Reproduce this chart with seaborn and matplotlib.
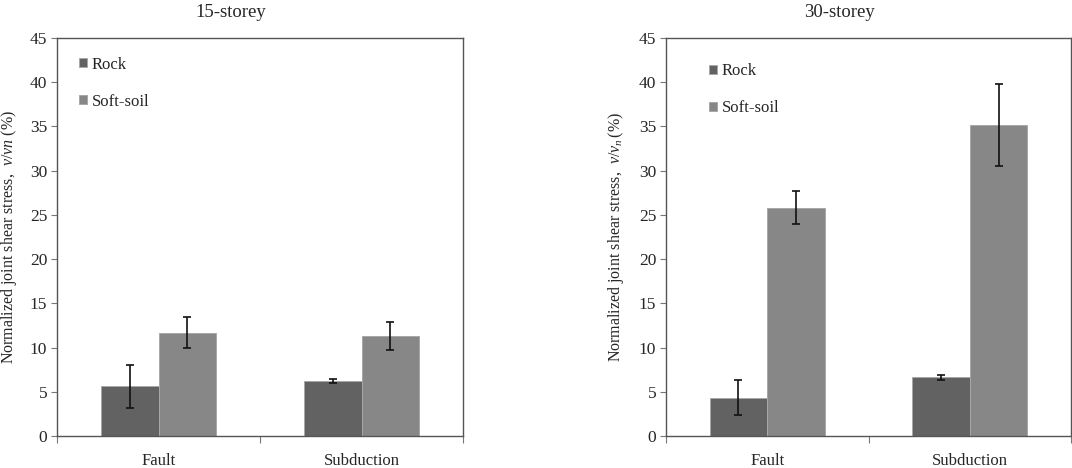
import numpy as np
import pandas as pd
import seaborn as sns
import matplotlib.pyplot as plt

# values
categories = ['Fault', 'Subduction']
soils = ['Rock', 'Soft-soil']

storey15_rock = [5.6, 6.2]
storey15_rock_err = [2.4, 0.23]
storey15_soft = [11.7, 11.3]
storey15_soft_err = [1.75, 1.55]

storey30_rock = [4.35, 6.65]
storey30_rock_err = [1.93, 0.28]
storey30_soft = [25.8, 35.2]
storey30_soft_err = [1.85, 4.65]

yticks = list(range(0, 50, 5))

colors = {'Rock': '#626262', 'Soft-soil': '#878787'}

sns.set_style('white')
plt.rcParams['font.family'] = ['Liberation Serif', 'DejaVu Serif']
plt.rcParams['mathtext.fontset'] = 'custom'
plt.rcParams['mathtext.rm'] = 'Liberation Serif'
plt.rcParams['mathtext.it'] = 'Liberation Serif:italic'


def make_frame(rock, soft):
    return pd.DataFrame({
        'mechanism': categories * 2,
        'soil': ['Rock'] * 2 + ['Soft-soil'] * 2,
        'value': list(rock) + list(soft),
    })


def draw_panel(ax, rock, rock_err, soft, soft_err, title, ylabel, leg_xy, label_x):
    df = make_frame(rock, soft)
    sns.barplot(data=df, x='mechanism', y='value', hue='soil',
                order=categories, hue_order=soils, palette=colors,
                width=0.57, errorbar=None, edgecolor='#a8a8a8',
                linewidth=0.7, saturation=1, ax=ax)

    # error bars on top of the bars seaborn drew
    errs = {'Rock': rock_err, 'Soft-soil': soft_err}
    for cont, soil in zip(ax.containers, soils):
        xs = [p.get_x() + p.get_width() / 2 for p in cont.patches]
        ys = [p.get_height() for p in cont.patches]
        ax.errorbar(xs, ys, yerr=errs[soil], fmt='none', ecolor='#111111',
                    elinewidth=1.2, capsize=3, capthick=1.2)

    ax.set_xlim(-0.5, 1.5)
    ax.set_ylim(0, 45)
    ax.set_yticks(yticks)
    ax.set_xticks([0, 1])
    ax.set_xticklabels(categories, fontsize=12)
    ax.set_xticks([-0.5, 0.5, 1.5], minor=True)
    ax.tick_params(axis='x', which='major', length=0, pad=12)
    ax.tick_params(axis='x', which='minor', length=5, width=0.8,
                   color='#777777', direction='out', bottom=True)
    ax.tick_params(axis='y', length=4, width=0.8, color='#777777',
                   direction='out', labelsize=12.5, left=True, pad=3)
    for s in ax.spines.values():
        s.set_color('#555555')
        s.set_linewidth(1.0)
    ax.set_xlabel('')
    ax.set_ylabel(ylabel, fontsize=11.5)
    ax.yaxis.set_label_coords(label_x, 0.5)
    ax.text(0.428, 1.065, title, transform=ax.transAxes, ha='center',
            va='center', fontsize=13.5)

    ax.legend(loc='upper left', bbox_to_anchor=leg_xy, frameon=False,
              fontsize=12, handlelength=0.48, handleheight=0.48,
              handletextpad=0.3, labelspacing=1.25, borderaxespad=0,
              borderpad=0)


fig = plt.figure(figsize=(10.72, 4.68), dpi=100)
ax1 = fig.add_axes([0.0532, 0.0684, 0.3787, 0.8504])
ax2 = fig.add_axes([0.6213, 0.0684, 0.3778, 0.8504])

draw_panel(ax1, storey15_rock, storey15_rock_err, storey15_soft,
           storey15_soft_err, '15-storey',
           r'Normalized joint shear stress,  $v/vn$ (%)',
           (0.054, 0.953), -0.094)
draw_panel(ax2, storey30_rock, storey30_rock_err, storey30_soft,
           storey30_soft_err, '30-storey',
           r'Normalized joint shear stress,  $v/v_n\,\mathit{(\%)}$',
           (0.106, 0.936), -0.099)

fig.savefig('out.png', dpi=100)
